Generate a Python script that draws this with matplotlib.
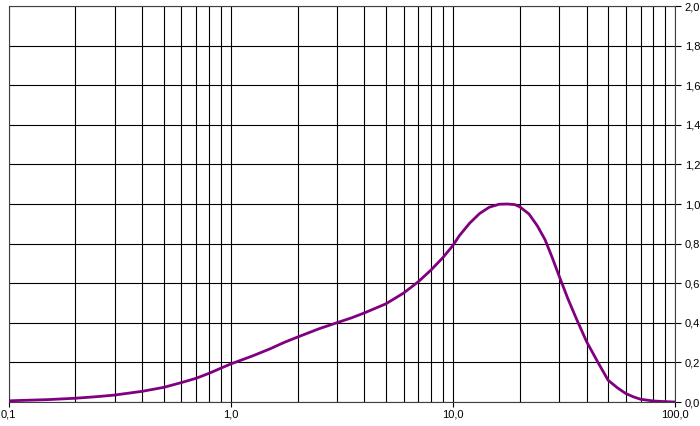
import matplotlib
matplotlib.use("Agg")
import matplotlib.pyplot as plt
from matplotlib.ticker import FixedLocator, FuncFormatter, NullFormatter

plt.rcParams['font.family'] = ['Liberation Sans', 'DejaVu Sans']

x_vals = [0.1, 0.15, 0.2, 0.25, 0.3, 0.4, 0.5, 0.6, 0.7, 0.8, 0.9, 1.0, 1.25, 1.5, 1.75,
          2.0, 2.5, 3.0, 3.5, 4.0, 5.0, 6.0, 7.0, 8.0, 9.0, 10.0, 10.7, 11.9, 13.2,
          14.6, 16.2, 17.6, 19.0, 20.0, 22.0, 24.0, 26.0, 28.0, 30.0, 33.0, 36.0,
          40.0, 45.0, 50.0, 55.0, 60.0, 65.0, 70.0, 80.0, 90.0, 100.0]
y_vals = [0.006, 0.012, 0.019, 0.027, 0.035, 0.054, 0.074, 0.098, 0.12, 0.145, 0.17, 0.192, 0.232, 0.268, 0.302,
          0.328, 0.37, 0.40, 0.425, 0.45, 0.496, 0.55, 0.608, 0.668, 0.728, 0.79, 0.84, 0.903, 0.952,
          0.984, 0.999, 1.0, 0.997, 0.986, 0.95, 0.89, 0.82, 0.73, 0.64, 0.52, 0.42,
          0.305, 0.20, 0.11, 0.072, 0.043, 0.026, 0.014, 0.005, 0.002, 0.0]

x_major = [0.1, 1.0, 10.0, 100.0]
x_major_labels = ["0,1", "1,0", "10,0", "100,0"]
x_minor = [m * d for d in (0.1, 1.0, 10.0) for m in range(2, 10)]
y_ticks = [0.0, 0.2, 0.4, 0.6, 0.8, 1.0, 1.2, 1.4, 1.6, 1.8, 2.0]

fig = plt.figure(figsize=(7.0, 4.26), dpi=100)
ax = fig.add_axes([8.5 / 700, 1 - 402 / 426, (675 - 8.5) / 700, (402 - 6) / 426])

ax.plot(x_vals, y_vals, color='#800080', linewidth=2.0, solid_capstyle='round',
        solid_joinstyle='round', zorder=3)

ax.set_xscale('log')
ax.set_xlim(0.1, 100)
ax.set_ylim(0, 2.0)

ax.xaxis.set_major_locator(FixedLocator(x_major))
ax.xaxis.set_major_formatter(FuncFormatter(lambda v, p: x_major_labels[x_major.index(min(x_major, key=lambda m: abs(m - v)))]))
ax.xaxis.set_minor_locator(FixedLocator(x_minor))
ax.xaxis.set_minor_formatter(NullFormatter())

ax.yaxis.set_major_locator(FixedLocator(y_ticks))
ax.yaxis.set_major_formatter(FuncFormatter(lambda v, p: f"{v:.1f}".replace('.', ',')))
ax.yaxis.tick_right()

ax.grid(True, which='major', color='black', linewidth=0.8)
ax.grid(True, which='minor', axis='x', color='black', linewidth=0.8)

ax.tick_params(axis='x', which='major', direction='out', length=3.5, width=0.8, pad=2,
               labelsize=8, colors='black')
ax.tick_params(axis='x', which='minor', length=0)
ax.tick_params(axis='y', which='major', direction='out', length=4, width=0.8, pad=3,
               labelsize=8, colors='black', right=True, left=False)

for s in ax.spines.values():
    s.set_color('#404040')
    s.set_linewidth(0.8)

fig.savefig('out.png', dpi=100)
